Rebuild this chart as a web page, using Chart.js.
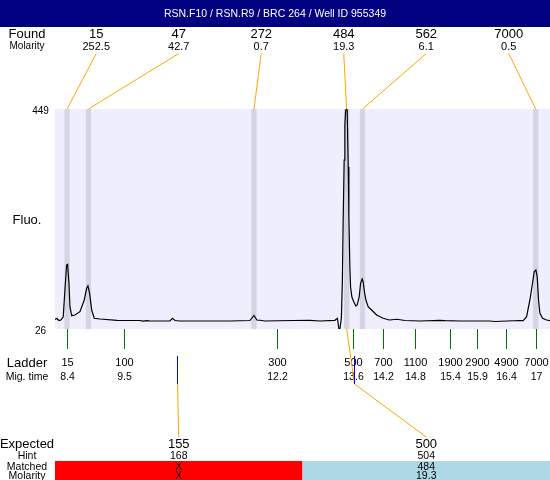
<!DOCTYPE html>
<html>
<head>
<meta charset="utf-8">
<script src="https://cdn.jsdelivr.net/npm/chart.js@4.4.0/dist/chart.umd.min.js"></script>
<style>
  html, body { margin: 0; padding: 0; background: #fff; }
  canvas { display: block; }
</style>
</head>
<body>
<canvas id="chart" width="550" height="480"></canvas>
<script>
// electropherogram data (time in s, fluorescence)
const title = 'RSN.F10 / RSN.R9 / BRC 264 / Well ID 955349';

const traceTime = [
  8.189, 8.225, 8.262, 8.298, 8.340, 8.371, 8.402, 8.420, 8.444, 8.463,
  8.494, 8.554, 8.645, 8.724, 8.767, 8.791, 8.822, 8.859, 8.906, 9.010,
  9.320, 9.740, 9.795, 9.868, 9.922, 10.287, 10.333, 10.378, 10.469, 11.381,
  11.746, 11.819, 11.873, 11.965, 12.019, 12.530, 12.840, 13.022, 13.296, 13.342,
  13.369, 13.387, 13.414, 13.433, 13.447, 13.465, 13.478, 13.491, 13.506, 13.520,
  13.539, 13.551, 13.569, 13.582, 13.606, 13.642, 13.679, 13.703, 13.739, 13.765,
  13.794, 13.812, 13.838, 13.862, 13.904, 13.966, 14.057, 14.177, 14.287, 14.427,
  14.573, 14.850, 15.211, 15.302, 15.576, 16.123, 16.214, 16.670, 16.731, 16.793,
  16.853, 16.902, 16.931, 16.962, 16.986, 17.011, 17.035, 17.084, 17.157, 17.218
];
const traceFluo = [
  44.3, 46.2, 42.3, 43.3, 49.6, 101.0, 149.1, 150.4, 114.4, 68.9,
  51.6, 52.9, 59.3, 81.8, 104.3, 108.7, 94.6, 62.5, 46.6, 45.2,
  42.7, 42.3, 41.0, 42.0, 41.4, 41.4, 46.6, 42.3, 41.4, 41.4,
  42.3, 52.0, 43.3, 42.3, 41.4, 42.3, 42.7, 41.4, 42.7, 46.6,
  26, 26, 47.1, 120.2, 235.6, 350.9, 418.2, 445.1, 449, 447.1,
  337.5, 241.3, 145.2, 106.8, 87.5, 77.9, 70.2, 72.1, 87.5, 114.4,
  122.1, 116.4, 95.2, 81.8, 68.3, 62.5, 52.9, 46.6, 43.3, 44.7,
  42.3, 41.4, 42.7, 42.0, 41.4, 41.4, 40.4, 42.3, 42.0, 49.6,
  81.8, 114.4, 136.2, 139.4, 126.6, 81.8, 56.8, 46.6, 43.3, 42.0
];

// found peaks
const foundSizes = ['15', '47', '272', '484', '562', '7000'];
const foundMolarity = ['252.5', '42.7', '0.7', '19.3', '6.1', '0.5'];
const foundTimes = [8.41, 8.80, 11.82, 13.51, 13.80, 16.96];

const ladderSizes = ['15', '100', '300', '500', '700', '1100', '1900', '2900', '4900', '7000'];
const ladderTimes = [8.413, 9.453, 12.233, 13.630, 14.177, 14.76, 15.399, 15.892, 16.420, 16.968];
const ladderLabels = ['8.4', '9.5', '12.2', '13.6', '14.2', '14.8', '15.4', '15.9', '16.4', '17'];

// expected fragments
const expectedSizes = ['155', '500'];
const expectedHint = ['168', '504'];
const expectedTimes = [10.415, 13.648];
const matchedSizes = ['X', '484'];
const matchedMolarity = ['X', '19.3'];
const matchedPeak = [-1, 3];

const yTicks = [449, 26];
const xMin = 8.19, xMax = 17.22;

const FONT = "'Liberation Sans', Arial, sans-serif";

function text(ctx, s, x, y, size, color) {
  ctx.font = size + 'px ' + FONT;
  ctx.fillStyle = color || '#000';
  ctx.textAlign = 'center';
  ctx.textBaseline = 'middle';
  ctx.fillText(s, x, y);
}

function line(ctx, pts, color) {
  ctx.strokeStyle = color;
  ctx.lineWidth = 1;
  ctx.beginPath();
  pts.forEach((p, i) => i ? ctx.lineTo(p[0], p[1]) : ctx.moveTo(p[0], p[1]));
  ctx.stroke();
}

const decorPlugin = {
  id: 'decor',
  beforeDraw(chart) {
    const ctx = chart.ctx;
    const a = chart.chartArea;
    const xs = chart.scales.x;
    ctx.save();
    ctx.fillStyle = '#fff';
    ctx.fillRect(0, 0, chart.width, chart.height);
    // title bar
    ctx.fillStyle = '#000080';
    ctx.fillRect(0, 0, chart.width, 27);
    text(ctx, title, chart.width / 2, 14, 10.5, '#fff');
    // plot background
    ctx.fillStyle = '#EEEEFC';
    ctx.fillRect(a.left, a.top, a.right - a.left, a.bottom - a.top);
    // peak bands
    ctx.fillStyle = '#D4D4E2';
    foundTimes.forEach(t => {
      const x0 = xs.getPixelForValue(t - 0.048);
      const x1 = xs.getPixelForValue(t + 0.048);
      ctx.fillRect(x0, a.top, x1 - x0, a.bottom - a.top);
    });
    ctx.restore();
  },
  afterDraw(chart) {
    const ctx = chart.ctx;
    const a = chart.chartArea;
    const xs = chart.scales.x;
    const ys = chart.scales.y;
    const w = a.right - a.left;
    ctx.save();

    // left labels
    text(ctx, 'Found', 27, 34.5, 13);
    text(ctx, 'Molarity', 27, 46.5, 10);
    text(ctx, 'Fluo.', 27, 220, 13);
    yTicks.forEach(v => text(ctx, String(v), 40.5, ys.getPixelForValue(v) + 2, 10));
    text(ctx, 'Ladder', 27, 363, 13);
    text(ctx, 'Mig. time', 27, 377, 10.5);

    // found peaks
    foundSizes.forEach((s, i) => {
      const cx = a.left + (i + 0.5) * w / foundSizes.length;
      text(ctx, s, cx, 34.5, 13);
      text(ctx, foundMolarity[i], cx, 46.5, 11);
      line(ctx, [[cx, 53.5], [xs.getPixelForValue(foundTimes[i]), a.top]], '#FFA500');
    });

    // ladder ticks
    ladderSizes.forEach((s, i) => {
      const x = Math.round(xs.getPixelForValue(ladderTimes[i])) + 0.5;
      line(ctx, [[x, a.bottom], [x, 349]], '#007000');
      text(ctx, s, x, 363, 11);
      text(ctx, ladderLabels[i], x, 377, 10.5);
    });

    // expected / matched table
    text(ctx, 'Expected', 27, 444, 13);
    text(ctx, 'Hint', 27, 456, 10.5);
    const n = expectedSizes.length;
    expectedSizes.forEach((s, i) => {
      const x0 = a.left + i * w / n;
      ctx.fillStyle = matchedPeak[i] < 0 ? '#FF0000' : '#ADD8E6';
      ctx.fillRect(x0, 461, w / n, chart.height - 461);
    });
    text(ctx, 'Matched', 27, 467.5, 10.5);
    text(ctx, 'Molarity', 27, 476.5, 10.5);
    expectedSizes.forEach((s, i) => {
      const cx = a.left + (i + 0.5) * w / n;
      const bx = Math.round(xs.getPixelForValue(expectedTimes[i])) + 0.5;
      const pts = [[bx, 384], [cx, 437]];
      if (matchedPeak[i] >= 0) pts.unshift([xs.getPixelForValue(foundTimes[matchedPeak[i]]), a.bottom]);
      line(ctx, pts, '#FFA500');
      line(ctx, [[bx, 356], [bx, 384]], '#0000FF');
      text(ctx, s, cx, 444, 13);
      text(ctx, expectedHint[i], cx, 456, 10.5);
      text(ctx, matchedSizes[i], cx, 467.5, 10.5);
      text(ctx, matchedMolarity[i], cx, 476.5, 10.5);
    });
    ctx.restore();
  }
};

new Chart(document.getElementById('chart'), {
  type: 'line',
  data: {
    datasets: [{
      data: traceTime.map((t, i) => ({ x: t, y: traceFluo[i] })),
      borderColor: '#000',
      borderWidth: 1.2,
      pointRadius: 0,
      tension: 0,
      fill: false
    }]
  },
  options: {
    responsive: false,
    animation: false,
    layout: { padding: { left: 55, right: 0, top: 109, bottom: 151 } },
    scales: {
      x: { type: 'linear', min: xMin, max: xMax, display: false },
      y: { min: yTicks[1], max: yTicks[0], display: false }
    },
    plugins: { legend: { display: false }, tooltip: { enabled: false } }
  },
  plugins: [decorPlugin]
});
</script>
</body>
</html>
